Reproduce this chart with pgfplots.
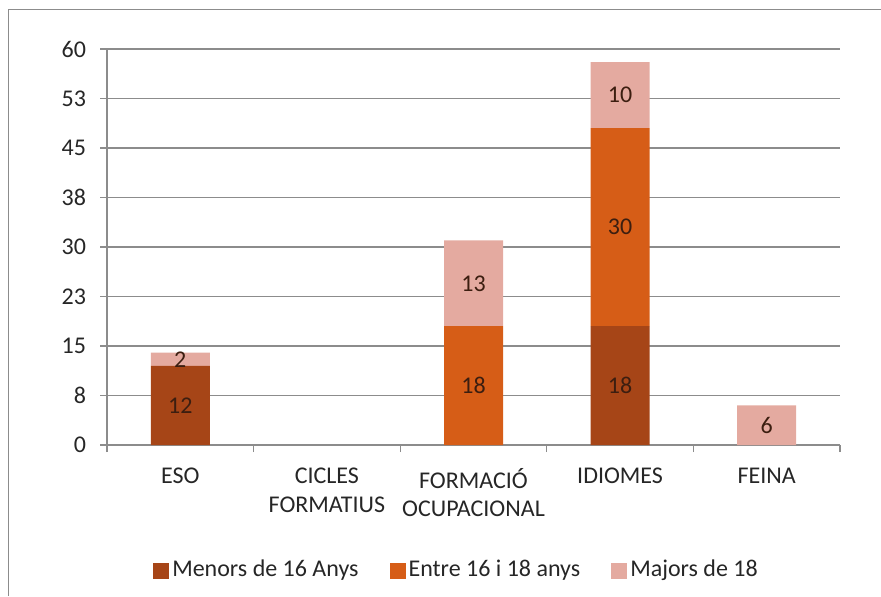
\documentclass[border=0pt]{standalone}
\usepackage{pgfplots}
\pgfplotsset{compat=1.18}
\usepackage{fontspec}
\setmainfont{Carlito}
\definecolor{cDark}{HTML}{A64517}
\definecolor{cMid}{HTML}{D65D17}
\definecolor{cLight}{HTML}{E4AAA0}
\definecolor{gridgray}{HTML}{8C8C8C}
\definecolor{txt}{HTML}{262626}
\definecolor{lbl}{HTML}{3C1E10}
\begin{document}
\begin{tikzpicture}[font=\fontsize{12pt}{14.2pt}\selectfont]
\useasboundingbox (0,0) rectangle (440.5pt,298pt);
\draw[gridgray, line width=0.6pt] (4.15pt,0) -- (4.15pt,293.2pt) -- (440.5pt,293.2pt);
\begin{axis}[
  at={(53.5pt,75.5pt)}, anchor=south west,
  scale only axis, width=366.5pt, height=198pt,
  ybar stacked, bar width=29.5pt,
  xmin=-0.5, xmax=4.5, ymin=0, ymax=60,
  xtick={0,1,2,3,4},
  xticklabels={ESO,{CICLES\\FORMATIUS},{FORMACIÓ\\OCUPACIONAL},IDIOMES,FEINA},
  minor xtick={-0.5,0.5,1.5,2.5,3.5,4.5},
  ytick={0,7.5,...,60},
  yticklabels={0,8,15,23,30,38,45,53,60},
  tick align=outside,
  major tick length=3.5pt, minor tick length=3.5pt,
  major x tick style={draw=none},
  ymajorgrids, grid style={gridgray, line width=0.6pt},
  axis x line*=bottom, axis y line*=left,
  axis line style={-, gridgray, line width=0.6pt},
  tick style={gridgray, line width=0.6pt},
  /pgf/number format/assume math mode=true,
  xticklabel style={align=center, text=txt, yshift=-4.5pt},
  yticklabel style={text=txt, xshift=-3.5pt},
  point meta=rawy,
  nodes near coords={\pgfmathfloatifflags{\pgfplotspointmeta}{0}{}{\pgfmathprintnumber{\pgfplotspointmeta}}},
  every node near coord/.append style={anchor=center, text=lbl},
  legend style={at={(0.4775,-0.3156)}, anchor=center, legend columns=3, draw=none, fill=none, text=txt,
    nodes={inner xsep=1.5pt},
    /tikz/every even column/.append style={column sep=14pt}},
  legend image code/.code={\fill[#1] (0pt,-4.5pt) rectangle (8pt,3.5pt);},
]
\addplot[fill=cDark, draw=none] coordinates {(0,12) (1,0) (2,0) (3,18) (4,0)};
\addlegendentry{Menors de 16 Anys}
\addplot[fill=cMid, draw=none] coordinates {(0,0) (1,0) (2,18) (3,30) (4,0)};
\addlegendentry{Entre 16 i 18 anys}
\addplot[fill=cLight, draw=none] coordinates {(0,2) (1,0) (2,13) (3,10) (4,6)};
\addlegendentry{Majors de 18}
\end{axis}
\end{tikzpicture}
\end{document}
